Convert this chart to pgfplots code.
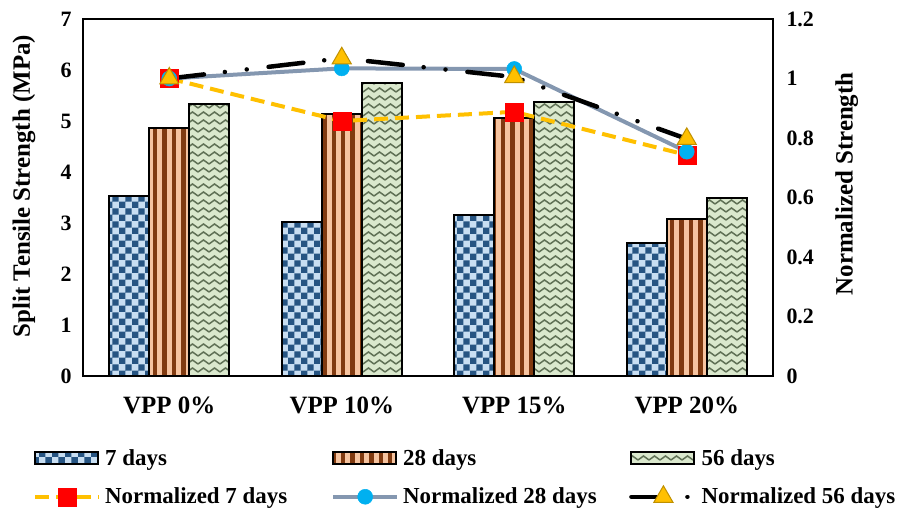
\documentclass[border=0pt]{standalone}
\usepackage{fontspec}
\setmainfont{Liberation Serif}
\usepackage{pgfplots}
\pgfplotsset{compat=1.18}
\usetikzlibrary{patterns}

\definecolor{cbdark}{RGB}{38,84,130}
\definecolor{cblight}{RGB}{200,222,242}
\definecolor{brdark}{RGB}{128,58,16}
\definecolor{brlight}{RGB}{246,196,160}
\definecolor{grdark}{RGB}{95,112,85}
\definecolor{grlight}{RGB}{218,232,205}
\definecolor{yel}{RGB}{255,192,0}
\definecolor{gbl}{RGB}{132,151,176}
\definecolor{cyanm}{RGB}{0,176,240}
\definecolor{tribd}{RGB}{191,144,0}

\pgfdeclarepatternformonly{mychecker}{\pgfqpoint{0bp}{0bp}}{\pgfqpoint{13.34bp}{13.34bp}}{\pgfqpoint{13.34bp}{13.34bp}}{%
  \pgfpathrectangle{\pgfqpoint{0bp}{0bp}}{\pgfqpoint{6.67bp}{6.67bp}}%
  \pgfpathrectangle{\pgfqpoint{6.67bp}{6.67bp}}{\pgfqpoint{6.67bp}{6.67bp}}%
  \pgfusepath{fill}%
}
\pgfdeclarepatternformonly{mystripes}{\pgfqpoint{0bp}{-1bp}}{\pgfqpoint{9.4bp}{41bp}}{\pgfqpoint{9.4bp}{40bp}}{%
  \pgfpathrectangle{\pgfqpoint{2.5bp}{-1bp}}{\pgfqpoint{4.4bp}{42bp}}%
  \pgfusepath{fill}%
}
\pgfdeclarepatternformonly{myzigzag}{\pgfqpoint{-1bp}{-1bp}}{\pgfqpoint{12bp}{9bp}}{\pgfqpoint{11bp}{8bp}}{%
  \pgfsetlinewidth{1.5bp}%
  \pgfpathmoveto{\pgfqpoint{0bp}{2bp}}%
  \pgfpathlineto{\pgfqpoint{5.5bp}{6bp}}%
  \pgfpathlineto{\pgfqpoint{11bp}{2bp}}%
  \pgfusepath{stroke}%
}

\begin{document}
\begin{tikzpicture}
\useasboundingbox (-83bp,-134bp) rectangle (827bp,376bp);
\begin{axis}[
  scale only axis, width=690bp, height=357bp,
  at={(0bp,0bp)}, anchor=south west,
  ybar=0pt, bar width=40bp,
  xmin=-0.5, xmax=3.5, ymin=0, ymax=7,
  xtick={0,1,2,3},
  xticklabels={VPP 0\%, VPP 10\%, VPP 15\%, VPP 20\%},
  ytick={0,1,2,3,4,5,6,7},
  major tick length=0pt,
  axis line style={line width=1.5bp},
  /pgf/number format/assume math mode=true,
  yticklabel style={font=\fontsize{22}{24}\selectfont\bfseries, xshift=-8bp},
  xticklabel style={font=\fontsize{25}{28}\selectfont\bfseries, yshift=-17bp},
  ylabel={Split Tensile Strength (MPa)},
  ylabel style={font=\fontsize{25}{28}\selectfont\bfseries, at={(axis description cs:-0.0855,0.532)}, anchor=center},
]
\addplot[draw=black, line width=2bp, preaction={fill=cblight}, pattern=mychecker, pattern color=cbdark]
  coordinates {(0,3.53) (1,3.01) (2,3.16) (3,2.61)};
\addplot[draw=black, line width=2bp, preaction={fill=brlight}, pattern=mystripes, pattern color=brdark]
  coordinates {(0,4.87) (1,5.14) (2,5.05) (3,3.08)};
\addplot[draw=black, line width=2bp, preaction={fill=grlight}, pattern=myzigzag, pattern color=grdark]
  coordinates {(0,5.34) (1,5.75) (2,5.37) (3,3.50)};
\end{axis}
\begin{axis}[
  scale only axis, width=690bp, height=357bp,
  at={(0bp,0bp)}, anchor=south west,
  xmin=-0.5, xmax=3.5, ymin=0, ymax=1.2,
  axis x line=none, axis y line*=right,
  axis line style={draw=none},
  ytick={0,0.2,0.4,0.6,0.8,1,1.2},
  major tick length=0pt,
  clip=false,
  /pgf/number format/assume math mode=true,
  /pgf/number format/.cd, fixed, precision=1, /pgfplots/.cd,
  yticklabel style={font=\fontsize{22}{24}\selectfont\bfseries, xshift=10bp},
  ylabel={Normalized Strength},
  ylabel style={font=\fontsize{25}{28}\selectfont\bfseries, at={(axis description cs:1.107,0.538)}, anchor=center},
  legend columns=3,
  legend cell align=left,
  legend image code/.code={\draw[mark repeat=2,mark phase=2,#1] plot coordinates {(0bp,0bp) (32bp,0bp) (64bp,0bp)};},
  legend style={draw=none, fill=none, inner sep=0bp, at={(rel axis cs:-0.0725,-0.205)}, anchor=north west,
    font=\fontsize{23}{25}\selectfont\bfseries, row sep=19bp,
    nodes={inner sep=0bp},
    /tikz/every odd column/.append style={column sep=4bp},
    /tikz/every even column/.append style={column sep=0bp}},
]
\addlegendimage{legend image code/.code={\draw[line width=2bp, preaction={fill=cblight}, pattern=mychecker, pattern color=cbdark] (0bp,-6bp) rectangle (63bp,6bp);}}
\addlegendentry{\makebox[226bp][l]{7 days}}
\addlegendimage{legend image code/.code={\draw[line width=2bp, preaction={fill=brlight}, pattern=mystripes, pattern color=brdark] (0bp,-6bp) rectangle (63bp,6bp);}}
\addlegendentry{\makebox[226bp][l]{28 days}}
\addlegendimage{legend image code/.code={\draw[line width=2bp, preaction={fill=grlight}, pattern=myzigzag, pattern color=grdark] (0bp,-6bp) rectangle (63bp,6bp);}}
\addlegendentry{\makebox[200bp][l]{56 days}}

\addplot[color=yel, line width=4bp, dash pattern=on 14bp off 7bp,
  mark=square*, mark size=9bp, mark options={solid, fill=red, draw=red, line width=0.5bp}]
  coordinates {(0,1.0) (1,0.857) (2,0.888) (3,0.743)};
\addlegendentry{\makebox[226bp][l]{Normalized 7 days}}
\addplot[color=gbl, line width=4bp,
  mark=*, mark size=7.5bp, mark options={solid, fill=cyanm, draw=cyanm, line width=0.5bp}]
  coordinates {(0,1.0) (1,1.034) (2,1.032) (3,0.754)};
\addlegendentry{\makebox[226bp][l]{Normalized 28 days}}
\addplot[color=black, line width=4.5bp, line cap=round,
  dash pattern=on 35bp off 21bp on 0.01bp off 22bp on 0.01bp off 22bp,
  mark=triangle*, mark size=11bp, mark options={solid, fill=yel, draw=tribd, line width=1bp, line cap=butt}]
  coordinates {(0,1.0) (1,1.068) (2,1.005) (3,0.797)};
\addlegendentry{\makebox[200bp][l]{Normalized 56 days}}
\end{axis}
\end{tikzpicture}
\end{document}
